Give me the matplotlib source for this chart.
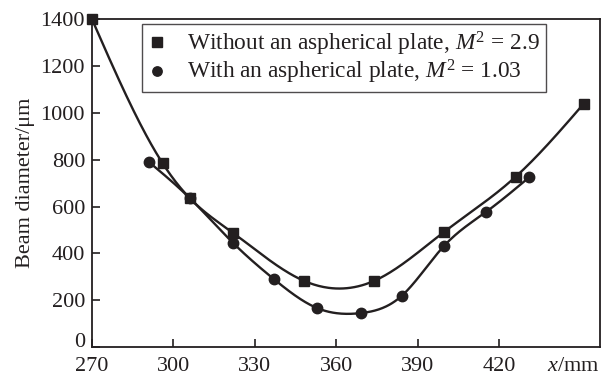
import numpy as np
import matplotlib
matplotlib.use("Agg")
import matplotlib.pyplot as plt

plt.rcParams['font.family'] = ['Liberation Serif', 'DejaVu Serif']
plt.rcParams['mathtext.fontset'] = 'custom'
plt.rcParams['mathtext.rm'] = 'Liberation Serif'
plt.rcParams['mathtext.it'] = 'Liberation Serif:italic'

# Data
x_without = [270, 296, 306, 322, 348, 374, 399.5, 426, 451]
y_without = [1400, 785, 636, 487, 283, 283, 490, 727, 1038]
x_with = [291, 306, 322, 337, 353, 369, 384, 399.5, 415, 431]
y_with = [790, 636, 444, 290, 166, 145, 218, 430, 576, 725]
xticks = [270, 300, 330, 360, 390, 420]
yticks = [0, 200, 400, 600, 800, 1000, 1200, 1400]
label_without = r"Without an aspherical plate, $M^2$ = 2.9"
label_with = r"With an aspherical plate, $M^2$ = 1.03"


def natural_spline(x, y, n=400):
    x = np.asarray(x, float)
    y = np.asarray(y, float)
    k = len(x)
    h = np.diff(x)
    A = np.zeros((k, k))
    b = np.zeros(k)
    A[0, 0] = 1
    A[-1, -1] = 1
    for i in range(1, k - 1):
        A[i, i - 1] = h[i - 1]
        A[i, i] = 2 * (h[i - 1] + h[i])
        A[i, i + 1] = h[i]
        b[i] = 6 * ((y[i + 1] - y[i]) / h[i] - (y[i] - y[i - 1]) / h[i - 1])
    M = np.linalg.solve(A, b)
    xs = np.linspace(x[0], x[-1], n)
    idx = np.clip(np.searchsorted(x, xs) - 1, 0, k - 2)
    x0, x1 = x[idx], x[idx + 1]
    hh = x1 - x0
    t0 = x1 - xs
    t1 = xs - x0
    ys = (M[idx] * t0 ** 3 / (6 * hh) + M[idx + 1] * t1 ** 3 / (6 * hh)
          + (y[idx] / hh - M[idx] * hh / 6) * t0
          + (y[idx + 1] / hh - M[idx + 1] * hh / 6) * t1)
    return xs, ys


FS = 16
C = '#231f20'
fig = plt.figure(figsize=(6.01, 3.76), dpi=100)
ax = fig.add_axes([0.153, 0.077, 0.845, 0.872])

xs, ys = natural_spline(x_without, y_without)
ax.plot(xs, ys, color=C, lw=1.7, clip_on=False)
ax.plot(x_without, y_without, 's', color=C, ms=7.5, ls='none', label=label_without,
        clip_on=False, zorder=5)
xs, ys = natural_spline(x_with, y_with)
ax.plot(xs, ys, color=C, lw=1.7)
ax.plot(x_with, y_with, 'o', color=C, ms=7.5, ls='none', label=label_with, zorder=5)

ax.set_xlim(270, 457)
ax.set_ylim(0, 1400)
ax.set_xticks(xticks)
ax.set_yticks(yticks)
ax.tick_params(direction='in', length=6, width=1.2, labelsize=FS, colors=C)
ax.tick_params(axis='x', pad=7)
ax.tick_params(axis='y', pad=5)
for s in ax.spines.values():
    s.set_linewidth(1.3)
    s.set_color(C)
ax.set_ylabel("Beam diameter/\u03bcm", fontsize=FS, color=C, labelpad=4)
ax.text(1.0, -0.03, r"$x$/mm", transform=ax.transAxes, ha='right', va='top',
        fontsize=FS, color=C)

leg = ax.legend(loc='upper left', bbox_to_anchor=(0.098, 0.985), fontsize=16.8,
                frameon=True, fancybox=False, edgecolor=C, handlelength=0.8,
                handletextpad=0.9, borderpad=0.25, labelspacing=0.0, markerscale=0.9,
                borderaxespad=0)
leg.get_frame().set_linewidth(1.0)
for t in leg.get_texts():
    t.set_color(C)

fig.canvas.draw()
ax.get_yticklabels()[0].set_va('baseline')

fig.savefig("out.png", dpi=100)
